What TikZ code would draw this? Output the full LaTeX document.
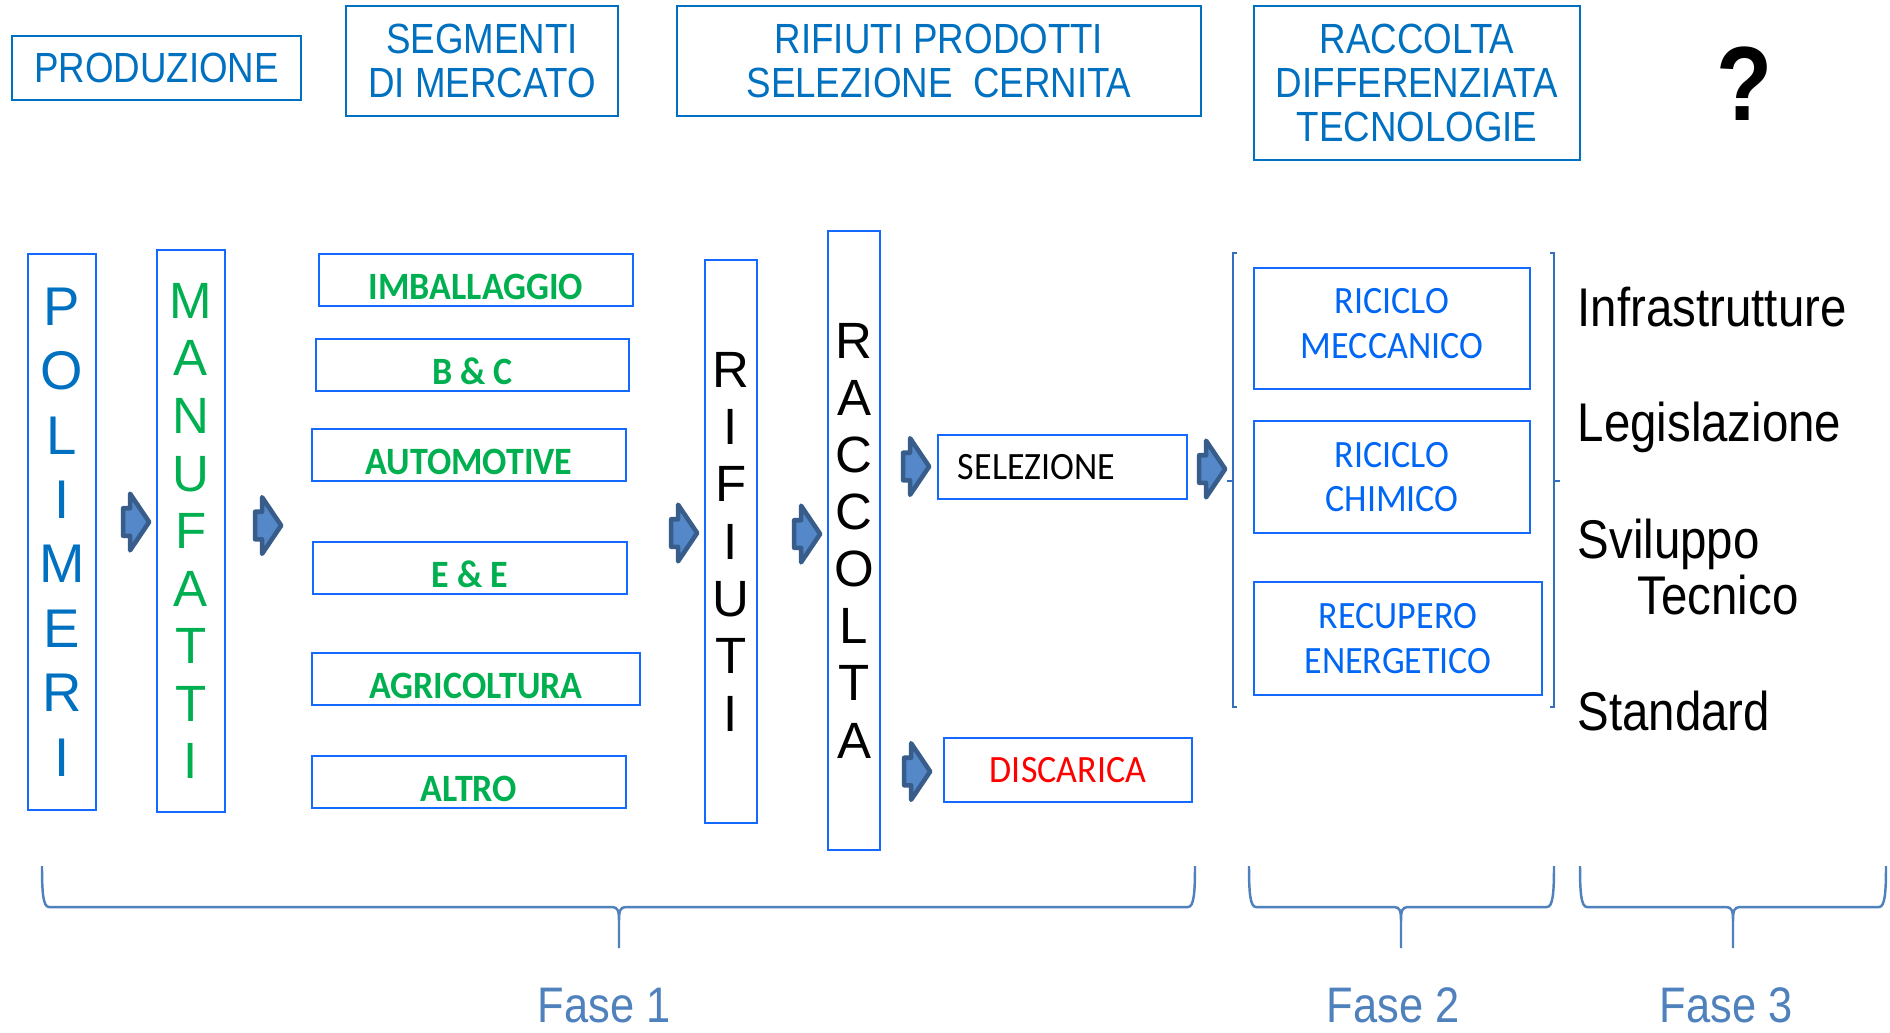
\documentclass[tikz,border=0pt]{standalone}
\usepackage{fontspec}
\usepackage{tikz}
\usetikzlibrary{shapes.arrows,positioning}

\newfontfamily\arialfont{Liberation Sans}[FakeStretch=0.87]
\newfontfamily\arialplain{Liberation Sans}
\newfontfamily\calfont{Carlito}[FakeStretch=0.93]

\definecolor{hdrblue}{RGB}{0,112,192}
\definecolor{boxblue}{RGB}{20,105,255}
\definecolor{txtgreen}{RGB}{0,176,80}
\definecolor{recblue}{RGB}{0,102,245}
\definecolor{phasecol}{RGB}{79,129,189}
\definecolor{arrdark}{RGB}{56,93,138}
\definecolor{arrlight}{RGB}{84,136,200}
\definecolor{brkblue}{RGB}{50,112,190}

\begin{document}
\begin{tikzpicture}[
    x=0.01cm, y=-0.01cm,
    header/.style={rectangle, draw=hdrblue, line width=0.6pt, text=hdrblue, align=center, inner sep=0pt, font=\arialfont\fontsize{12}{12.4}\selectfont},
    column/.style={rectangle, draw=boxblue, line width=0.6pt, align=center, inner sep=0pt, font=\arialplain\fontsize{14.5}{16.3}\selectfont},
    segment/.style={rectangle, draw=boxblue, line width=0.6pt, inner sep=0pt, minimum height=0.52cm, text=txtgreen, text height=0.39cm, text depth=0pt, font=\calfont\bfseries\fontsize{11}{13}\selectfont},
    stage/.style={rectangle, draw=boxblue, line width=0.6pt, inner sep=0pt, minimum width=2.48cm, minimum height=0.64cm, font=\calfont\fontsize{11}{13}\selectfont},
    process/.style={rectangle, draw=boxblue, line width=0.6pt, inner sep=0pt, align=center, text=recblue, font=\calfont\fontsize{11}{12.6}\selectfont},
    factor/.style={anchor=base west, inner sep=0pt, font=\arialfont\fontsize{15.5}{17}\selectfont},
    phase/.style={anchor=base, inner sep=0pt, text=phasecol, font=\arialfont\fontsize{14.2}{16}\selectfont},
    blockarrow/.style={single arrow, draw=arrdark, fill=arrlight, line width=1.3pt, line join=round, inner sep=0pt, text height=0.115cm, text depth=0.115cm, minimum height=0.26cm, single arrow head extend=0.145cm, single arrow tip angle=112},
    brace/.style={draw=phasecol, line width=0.7pt},
    bracket/.style={draw=brkblue, line width=0.6pt}
]
\path[use as bounding box, fill=white] (0,0) rectangle (1890,1032);

% Column headers
\node[header, minimum width=2.89cm, minimum height=0.64cm] (produzione) at (156.5,68) {PRODUZIONE};
\node[header, minimum width=2.72cm, minimum height=1.10cm] (segmenti) at (482,61) {SEGMENTI\\DI MERCATO};
\node[header, minimum width=5.24cm, minimum height=1.10cm] (rifprodotti) at (939,61) {RIFIUTI PRODOTTI\\SELEZIONE\ \ CERNITA};
\node[header, minimum width=3.26cm, minimum height=1.54cm] (raccdiff) at (1417,83) {RACCOLTA\\DIFFERENZIATA\\TECNOLOGIE};
\node[font=\arialfont\bfseries\fontsize{30}{32}\selectfont, inner sep=0pt] (domanda) at (1745,84) {?};

% Vertical columns
\node[column, text=hdrblue, minimum width=0.68cm, minimum height=5.56cm, font=\arialplain\fontsize{15.5}{18.3}\selectfont] (polimeri) at (62,532) {P\\O\\L\\I\\M\\E\\R\\I};
\node[column, text=txtgreen, minimum width=0.68cm, minimum height=5.62cm, font=\arialplain\fontsize{14.5}{16.36}\selectfont] (manufatti) at (191,531) {M\\A\\N\\U\\F\\A\\T\\T\\I};
\node[column, minimum width=0.52cm, minimum height=5.63cm] (rifiuti) at (731,541.5) {R\\I\\F\\I\\U\\T\\I};
\node[column, minimum width=0.52cm, minimum height=6.19cm, font=\arialplain\fontsize{14.5}{16.25}\selectfont] (raccolta) at (854,540.5) {R\\A\\C\\C\\O\\L\\T\\A};

% Market segments
\node[segment, minimum width=3.14cm] (imballaggio) at (476,280) {IMBALLAGGIO};
\node[segment, minimum width=3.13cm] (bc) at (472.5,365) {B \& C};
\node[segment, minimum width=3.14cm] (automotive) at (469,455) {AUTOMOTIVE};
\node[segment, minimum width=3.14cm] (ee) at (470,568) {E \& E};
\node[segment, minimum width=3.28cm] (agricoltura) at (476,679) {AGRICOLTURA};
\node[segment, minimum width=3.14cm] (altro) at (469,782) {ALTRO};

% Selection and landfill
\node[stage, text width=2.09cm, inner xsep=0.2cm, align=left] (selezione) at (1062.5,467) {SELEZIONE};
\node[stage, text=red] (discarica) at (1068,770) {DISCARICA};

% Recovery routes
\node[process, minimum width=2.76cm, minimum height=1.21cm, text depth=0.1cm] (riccmecc) at (1392,328.5) {RICICLO\\MECCANICO};
\node[process, minimum width=2.76cm, minimum height=1.12cm] (ricchim) at (1392,477) {RICICLO\\CHIMICO};
\node[process, minimum width=2.88cm, minimum height=1.13cm] (recupero) at (1398,638.5) {RECUPERO\\ENERGETICO};

\draw[bracket] (1237,253) -- (1233,253) -- (1233,707) -- (1237,707) (1233,481) -- (1227,481);
\draw[bracket] (1550,253) -- (1554,253) -- (1554,707) -- (1550,707) (1554,481) -- (1560,481);

% Block arrows
\node[blockarrow] (a1) at (131.5,522) {};
\node[blockarrow] (a2) at (263.5,525.5) {};
\node[blockarrow] (a3) at (679.5,533) {};
\node[blockarrow] (a4) at (802.5,534) {};
\node[blockarrow] (a5) at (911.5,466.5) {};
\node[blockarrow] (a6) at (1207.5,469) {};
\node[blockarrow] (a7) at (912.5,771.5) {};

% Phase 3 factors
\node[factor] (infra) at (1577,326) {Infrastrutture};
\node[factor] (legis) at (1577,441) {Legislazione};
\node[factor] (svil) at (1577,558) {Sviluppo};
\node[factor] (tecn) at (1637,614) {Tecnico};
\node[factor] (standard) at (1577,730) {Standard};

% Phases
\foreach \l/\c/\r in {42/619/1195, 1249/1401/1554, 1580/1733/1886}
  \draw[brace] (\l,866) .. controls (\l,892) and ({\l+1},907) .. ({\l+7},907)
    -- ({\c-7},907) .. controls ({\c-1},907) and (\c,911) .. (\c,921) -- (\c,948)
    (\c,921) .. controls (\c,911) and ({\c+1},907) .. ({\c+7},907)
    -- ({\r-7},907) .. controls ({\r-1},907) and (\r,892) .. (\r,866);
\node[phase] (fase1) at (604,1022) {Fase 1};
\node[phase] (fase2) at (1393,1022) {Fase 2};
\node[phase] (fase3) at (1726,1022) {Fase 3};

\end{tikzpicture}
\end{document}
